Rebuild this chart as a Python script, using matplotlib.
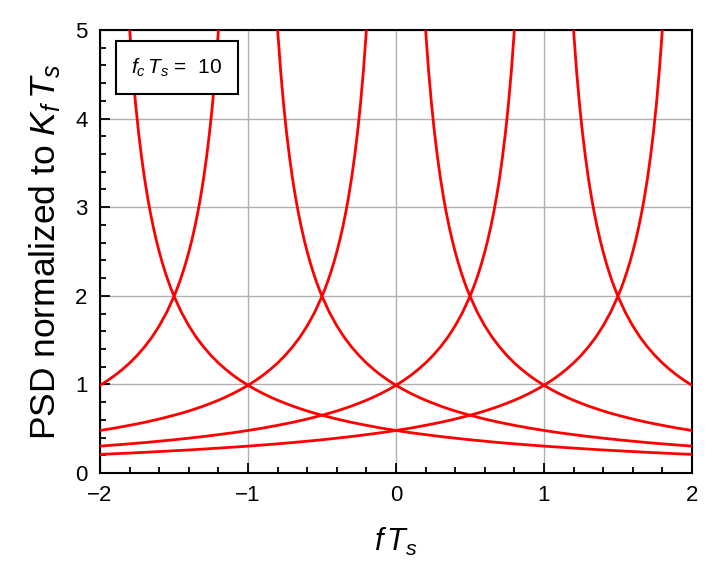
import numpy as np
import matplotlib
matplotlib.use("Agg")
import matplotlib.pyplot as plt
from matplotlib.ticker import MultipleLocator

plt.rcParams['font.family'] = ['Liberation Sans', 'DejaVu Sans']
plt.rcParams['mathtext.fontset'] = 'custom'
plt.rcParams['mathtext.rm'] = 'Liberation Sans'
plt.rcParams['mathtext.it'] = 'Liberation Sans:italic'

# carrier positions (in units of 1/Ts) of each spectral line
centers = [-2, -1, 0, 1, 2]
# shape of one line: distance from its center vs normalized PSD
dist = [0.18, 0.20, 0.22, 0.24, 0.26, 0.28, 0.30, 0.32, 0.34, 0.36, 0.38, 0.40,
        0.42, 0.44, 0.46, 0.48, 0.50, 0.55, 0.60, 0.65, 0.70, 0.75, 0.80, 0.85,
        0.90, 0.95, 1.00, 1.05, 1.10, 1.15, 1.20, 1.25, 1.30, 1.35, 1.40, 1.45,
        1.50, 1.6, 1.7, 1.8, 1.9, 2.0, 2.1, 2.2, 2.3, 2.4, 2.5, 2.6, 2.7, 2.8,
        2.9, 3.0, 3.1, 3.2, 3.3, 3.4, 3.5, 3.6, 3.7, 3.8, 3.9, 4.0]
psd = [5.55, 5.0, 4.545, 4.165, 3.845, 3.57, 3.33, 3.122, 2.937, 2.774, 2.627,
       2.496, 2.376, 2.268, 2.168, 2.078, 1.995, 1.813, 1.661, 1.532, 1.422,
       1.326, 1.242, 1.168, 1.102, 1.043, 0.990, 0.942, 0.898, 0.858, 0.821,
       0.788, 0.756, 0.727, 0.700, 0.675, 0.652, 0.609, 0.571, 0.538, 0.507,
       0.480, 0.455, 0.433, 0.412, 0.393, 0.375, 0.359, 0.343, 0.329, 0.316,
       0.303, 0.292, 0.281, 0.270, 0.260, 0.251, 0.242, 0.233, 0.225, 0.217,
       0.210]
fcTs = 10

fig = plt.figure(figsize=(7.2, 5.83), dpi=100)
ax = fig.add_axes([0.139, 0.1887, 0.822, 0.7598])

d = np.array(dist)
p = np.array(psd)
for c in centers:
    for side in (-1, 1):
        x = c + side * d
        keep = (x >= -2) & (x <= 2)
        ax.plot(x[keep], p[keep], color='red', lw=2.0, zorder=3,
                solid_joinstyle='round')

ax.set_xlim(-2, 2)
ax.set_ylim(0, 5)
ax.xaxis.set_major_locator(MultipleLocator(1))
ax.xaxis.set_minor_locator(MultipleLocator(0.2))
ax.yaxis.set_major_locator(MultipleLocator(1))
ax.yaxis.set_minor_locator(MultipleLocator(0.2))
ax.tick_params(which='both', direction='in', labelsize=16, width=1.3)
ax.tick_params(which='major', length=7, pad=9)
ax.tick_params(which='minor', length=4)
ax.grid(True, which='major', color='#b0b0b0', lw=1.0)
for s in ax.spines.values():
    s.set_linewidth(1.5)

ax.set_xlabel(r'$f\,T_s$', fontsize=22, labelpad=14)
ax.set_ylabel(r'PSD normalized to $K_f\,T_s$', fontsize=25.5, labelpad=9)

ax.text(0.13, 0.915, r'$f_c\,T_s$ =  ' + str(fcTs), transform=ax.transAxes,
        fontsize=15, ha='center', va='center', zorder=5,
        bbox=dict(boxstyle='square,pad=0.75', fc='white', ec='black', lw=1.5))

fig.savefig('out.png', dpi=100)
